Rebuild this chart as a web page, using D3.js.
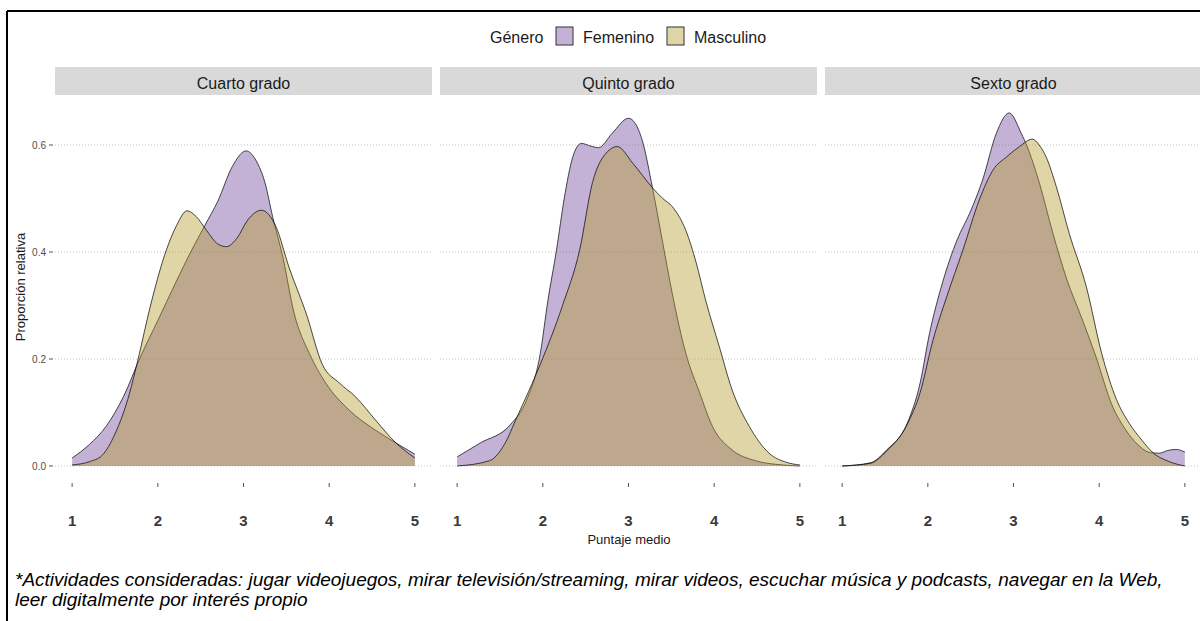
<!DOCTYPE html>
<html>
<head>
<meta charset="utf-8">
<script src="https://cdn.jsdelivr.net/npm/d3@7"></script>
<style>
  body { margin: 0; background: #fff; }
  svg { display: block; font-family: "Liberation Sans", Arial, sans-serif; }
</style>
</head>
<body>
<svg id="chart"></svg>
<script>
// facet names and groups
var grados = ["Cuarto grado", "Quinto grado", "Sexto grado"];
var generos = ["Femenino", "Masculino"];
var xTicks = [1, 2, 3, 4, 5];
var yTicks = [0, 0.2, 0.4, 0.6];

// density curves: [puntaje, proporción]
var cuartoFem = [[1.0,0.015],[1.2,0.04],[1.4,0.075],[1.6,0.13],[1.8,0.205],[2.0,0.272],[2.2,0.34],[2.4,0.405],
  [2.55,0.45],[2.7,0.495],[2.87,0.56],[3.03,0.589],[3.15,0.57],[3.25,0.53],[3.34,0.466],[3.46,0.39],[3.59,0.286],
  [3.77,0.21],[3.96,0.155],[4.23,0.105],[4.54,0.067],[4.78,0.043],[5.0,0.022]];
var cuartoMasc = [[1.0,0.002],[1.2,0.008],[1.35,0.02],[1.5,0.06],[1.67,0.136],[1.77,0.2],[1.91,0.297],[2.1,0.404],
  [2.22,0.45],[2.34,0.477],[2.45,0.466],[2.57,0.44],[2.7,0.415],[2.8,0.41],[2.92,0.425],[3.05,0.46],[3.21,0.478],
  [3.38,0.447],[3.53,0.372],[3.73,0.286],[3.92,0.19],[4.12,0.155],[4.31,0.129],[4.54,0.086],[4.78,0.043],[5.0,0.015]];
var quintoFem = [[1.0,0.017],[1.27,0.043],[1.62,0.077],[1.81,0.123],[1.97,0.21],[2.06,0.31],[2.16,0.404],[2.25,0.5],
  [2.35,0.578],[2.45,0.603],[2.56,0.598],[2.65,0.595],[2.81,0.622],[3.0,0.65],[3.08,0.64],[3.16,0.609],[3.28,0.52],
  [3.4,0.417],[3.51,0.323],[3.67,0.21],[3.83,0.137],[3.98,0.074],[4.21,0.03],[4.48,0.01],[4.8,0.002],[5.0,0.0]];
var quintoMasc = [[1.0,0.0],[1.38,0.01],[1.55,0.04],[1.7,0.092],[1.97,0.19],[2.23,0.3],[2.43,0.404],[2.58,0.53],
  [2.74,0.585],[2.87,0.597],[3.05,0.566],[3.28,0.52],[3.4,0.5],[3.51,0.485],[3.67,0.44],[3.79,0.38],[3.9,0.31],
  [4.06,0.223],[4.21,0.142],[4.41,0.074],[4.64,0.024],[4.84,0.007],[5.0,0.002]];
var sextoFem = [[1.0,0.0],[1.33,0.006],[1.52,0.03],[1.76,0.08],[1.91,0.155],[2.02,0.248],[2.17,0.342],[2.34,0.422],
  [2.49,0.473],[2.64,0.535],[2.8,0.622],[2.95,0.66],[3.09,0.622],[3.16,0.597],[3.3,0.53],[3.46,0.435],[3.62,0.35],
  [3.8,0.275],[3.95,0.21],[4.16,0.11],[4.3,0.07],[4.45,0.04],[4.6,0.025],[4.7,0.024],[4.8,0.029],[4.9,0.031],[5.0,0.026]];
var sextoMasc = [[1.0,0.0],[1.33,0.005],[1.52,0.028],[1.76,0.078],[1.91,0.137],[2.06,0.235],[2.22,0.316],[2.41,0.404],
  [2.6,0.497],[2.76,0.553],[2.92,0.578],[3.07,0.597],[3.22,0.611],[3.3,0.6],[3.38,0.578],[3.5,0.522],[3.65,0.435],
  [3.85,0.335],[4.03,0.21],[4.2,0.125],[4.35,0.08],[4.5,0.048],[4.62,0.026],[4.82,0.008],[5.0,0.0]];

var curvas = [[cuartoFem, cuartoMasc], [quintoFem, quintoMasc], [sextoFem, sextoMasc]];
var colores = { Femenino: "#72459d", Masculino: "#b39b2b" };
var fillAlpha = 0.42;

var svgWidth = 1200, svgHeight = 621;
var svg = d3.select("#chart").attr("width", svgWidth).attr("height", svgHeight);

// frame
svg.append("line").attr("x1", 7).attr("x2", svgWidth).attr("y1", 11).attr("y2", 11)
    .attr("stroke", "#000").attr("stroke-width", 2);
svg.append("line").attr("x1", 7).attr("x2", 7).attr("y1", 11).attr("y2", svgHeight)
    .attr("stroke", "#000").attr("stroke-width", 2);

var panelLeft = [55, 440, 825], panelWidth = 377;
var x = d3.scaleLinear().domain([0.8, 5.2]).range([0, panelWidth]);
var y = d3.scaleLinear().domain([0, 0.6]).range([466, 145]);

var area = d3.area()
    .x(function(d) { return x(d[0]); })
    .y0(y(0))
    .y1(function(d) { return y(d[1]); })
    .curve(d3.curveMonotoneX);
var line = d3.line()
    .x(function(d) { return x(d[0]); })
    .y(function(d) { return y(d[1]); })
    .curve(d3.curveMonotoneX);

grados.forEach(function(grado, i) {
    var g = svg.append("g").attr("transform", "translate(" + panelLeft[i] + ",0)");

    // strip
    g.append("rect").attr("x", 0).attr("y", 67).attr("width", panelWidth).attr("height", 28)
        .attr("fill", "#d9d9d9");
    g.append("text").attr("x", panelWidth / 2).attr("y", 89).attr("text-anchor", "middle")
        .attr("font-size", 16).attr("fill", "#1a1a1a").text(grado);

    // dotted grid
    g.selectAll(".grid").data(yTicks).enter().append("line")
        .attr("x1", 0).attr("x2", panelWidth)
        .attr("y1", function(d) { return y(d); }).attr("y2", function(d) { return y(d); })
        .attr("stroke", "#c4c4c4").attr("stroke-width", 1).attr("stroke-dasharray", "1,2");

    // densities
    generos.forEach(function(gen, j) {
        var datos = curvas[i][j];
        g.append("path").datum(datos).attr("d", area)
            .attr("fill", colores[gen]).attr("fill-opacity", fillAlpha);
        g.append("path").datum(datos).attr("d", line)
            .attr("fill", "none").attr("stroke", "#000").attr("stroke-width", 0.7);
    });

    // x ticks
    g.selectAll(".xt").data(xTicks).enter().append("line")
        .attr("x1", function(d) { return x(d); }).attr("x2", function(d) { return x(d); })
        .attr("y1", 483).attr("y2", 487).attr("stroke", "#555").attr("stroke-width", 1);
    g.selectAll(".xl").data(xTicks).enter().append("text")
        .attr("x", function(d) { return x(d); }).attr("y", 526)
        .attr("text-anchor", "middle").attr("font-size", 15).attr("font-weight", "bold")
        .attr("fill", "#3a3a3a").text(function(d) { return d; });
});

// y axis on first panel
var yAxis = svg.append("g");
yAxis.selectAll(".yt").data(yTicks).enter().append("line")
    .attr("x1", 49).attr("x2", 53)
    .attr("y1", function(d) { return y(d); }).attr("y2", function(d) { return y(d); })
    .attr("stroke", "#555").attr("stroke-width", 1);
yAxis.selectAll(".yl").data(yTicks).enter().append("text")
    .attr("x", 46).attr("y", function(d) { return y(d) + 3.5; })
    .attr("text-anchor", "end").attr("font-size", 10).attr("fill", "#4d4d4d")
    .text(function(d) { return d3.format(".1f")(d); });

svg.append("text").attr("transform", "translate(25,287) rotate(-90)")
    .attr("text-anchor", "middle").attr("font-size", 13).attr("fill", "#1a1a1a")
    .text("Proporción relativa");
svg.append("text").attr("x", 629).attr("y", 544).attr("text-anchor", "middle")
    .attr("font-size", 13).attr("fill", "#1a1a1a").text("Puntaje medio");

// legend
var legend = svg.append("g");
legend.append("text").attr("x", 490).attr("y", 43).attr("font-size", 16).attr("fill", "#1a1a1a").text("Género");
var legX = [556, 667];
generos.forEach(function(gen, j) {
    legend.append("rect").attr("x", legX[j]).attr("y", 27).attr("width", 17).attr("height", 18)
        .attr("fill", colores[gen]).attr("fill-opacity", fillAlpha)
        .attr("stroke", "#333").attr("stroke-width", 1);
    legend.append("text").attr("x", legX[j] + 27).attr("y", 43).attr("font-size", 16)
        .attr("fill", "#1a1a1a").text(gen);
});

// footnote
var nota = svg.append("text").attr("font-size", 19).attr("font-style", "italic").attr("fill", "#000");
nota.append("tspan").attr("x", 15).attr("y", 586)
    .text("*Actividades consideradas: jugar videojuegos, mirar televisión/streaming, mirar videos, escuchar música y podcasts, navegar en la Web,");
nota.append("tspan").attr("x", 15).attr("y", 606).text("leer digitalmente por interés propio");
</script>
</body>
</html>
